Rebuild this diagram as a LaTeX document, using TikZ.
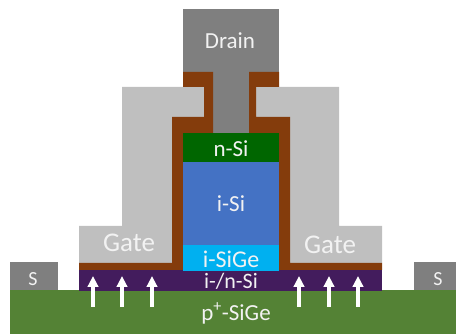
\documentclass[tikz,border=0pt]{standalone}
\usepackage{fontspec}
\setmainfont{Carlito}
\usetikzlibrary{arrows.meta}
\definecolor{metalgray}{HTML}{7F7F7F}
\definecolor{gategray}{HTML}{BFBFBF}
\definecolor{oxide}{HTML}{843C0C}
\definecolor{substrate}{HTML}{548235}
\definecolor{buffer}{HTML}{431C5D}
\definecolor{topsi}{HTML}{006600}
\definecolor{channel}{HTML}{4472C4}
\definecolor{sige}{HTML}{00B0F0}
\definecolor{labeltext}{HTML}{F2F2F2}
\tikzset{
  lbl/.style={text=labeltext,inner sep=0pt,font=\fontsize{#1}{#1}\selectfont},
  lbl/.default=23,
  up/.style={draw=white,line width=3.3pt,-{Triangle[length=11pt,width=10.5pt]}}
}
\begin{document}
\begin{tikzpicture}[x=1pt,y=-1pt]
\useasboundingbox (0,0) rectangle (456,334);

% contacts and substrate
\fill[metalgray] (10,262) rectangle (58,291);
\fill[metalgray] (414,262) rectangle (456,291);
\fill[metalgray] (183,9) rectangle (279,72);
\fill[metalgray] (213,72) rectangle (249,133);
\fill[substrate] (10,290) rectangle (456,334);

% gate
\fill[gategray] (79,263) -- (79,226) -- (122,226) -- (122,87) -- (204,87) -- (204,117) -- (172,117) -- (172,263) -- cycle;
\fill[gategray] (382,263) -- (382,226) -- (339,226) -- (339,87) -- (256,87) -- (256,117) -- (290,117) -- (290,263) -- cycle;

% gate oxide
\fill[oxide] (183,72) -- (213,72) -- (213,133) -- (183,133) -- (183,270) -- (79,270) -- (79,263) -- (172,263) -- (172,117) -- (204,117) -- (204,87) -- (183,87) -- cycle;
\fill[oxide] (279,72) -- (249,72) -- (249,133) -- (279,133) -- (279,270) -- (382,270) -- (382,263) -- (290,263) -- (290,117) -- (256,117) -- (256,87) -- (279,87) -- cycle;

% pillar
\fill[buffer] (79,270) rectangle (382,291);
\fill[topsi] (183,133) rectangle (279,162);
\fill[channel] (183,162) rectangle (279,245);
\fill[sige] (183,245) rectangle (279,271);

\node[lbl=23] (drain) at (230,41) {Drain};
\node[lbl=27] (gl) at (129,243) {Gate};
\node[lbl=27] (gr) at (330,245) {Gate};
\node[lbl=20] (sl) at (33,279) {S};
\node[lbl=20] (sr) at (438,279) {S};
\node[lbl=23] (nsi) at (231,149) {n-Si};
\node[lbl=23] (isi) at (231,204) {i-Si};
\node[lbl=24] (isige) at (231,259) {i-SiGe};
\node[lbl=22] (buf) at (231,281) {i-/n-Si};
\node[lbl=23] (psige) at (236,313) {p\textsuperscript{+}-SiGe};

% carrier arrows
\foreach \i/\x in {1/93,2/122,3/152,4/299,5/329,6/358} {
  \coordinate (p\i) at (\x,307);
  \coordinate (q\i) at (\x,276);
  \draw[up] (p\i) -- (q\i);
}
\end{tikzpicture}
\end{document}
